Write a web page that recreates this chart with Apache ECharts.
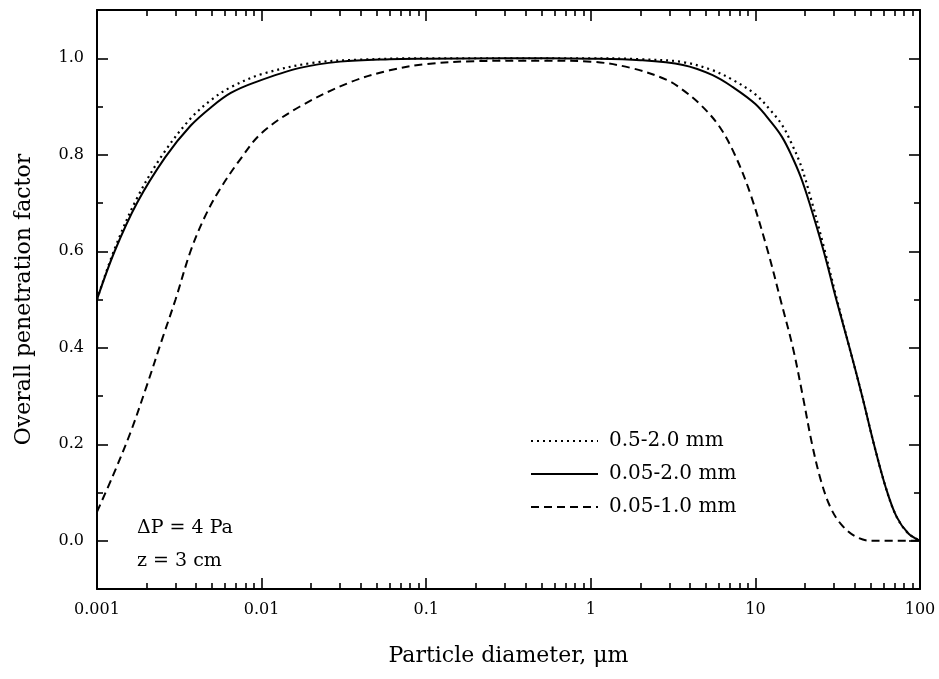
<!DOCTYPE html>
<html>
<head>
<meta charset="utf-8">
<script src="https://cdn.jsdelivr.net/npm/echarts@6/dist/echarts.min.js"></script>
<style>html,body{margin:0;padding:0;background:#fff}#c{width:939px;height:679px}</style>
</head>
<body>
<div id="c"></div>
<script>
// ---- data ----
const seriesNames = ['0.5-2.0 mm', '0.05-2.0 mm', '0.05-1.0 mm'];

const dottedX = [0.001, 0.00128, 0.00175, 0.0025, 0.0037, 0.005, 0.0065, 0.01, 0.02, 0.04, 0.1, 0.3, 1, 2, 3.63, 5.5, 7.3, 10, 12.5, 14.5, 16.5, 18.8, 21.3, 26, 31, 37.3, 44.5, 52.5, 62, 72, 85, 100];
const dottedY = [0.50, 0.605, 0.71, 0.80, 0.875, 0.915, 0.94, 0.967, 0.99, 0.997, 1.0, 1.0, 1.0, 0.998, 0.992, 0.975, 0.955, 0.925, 0.89, 0.862, 0.825, 0.78, 0.72, 0.61, 0.505, 0.40, 0.30, 0.20, 0.11, 0.05, 0.015, 0.0];

const solidX = [0.001, 0.00128, 0.00175, 0.0026, 0.0037, 0.005, 0.0065, 0.0091, 0.0171, 0.03, 0.06, 0.1, 0.3, 1, 2, 3.63, 5.5, 7.3, 10, 12.5, 14.5, 16.5, 18.8, 21.3, 26, 31, 37.3, 44.5, 52.5, 62, 72, 85, 100];
const solidY = [0.50, 0.60, 0.70, 0.795, 0.86, 0.90, 0.928, 0.95, 0.98, 0.993, 0.998, 0.999, 1.0, 0.999, 0.996, 0.986, 0.965, 0.94, 0.905, 0.867, 0.837, 0.80, 0.755, 0.70, 0.60, 0.50, 0.40, 0.30, 0.20, 0.11, 0.05, 0.015, 0.0];

const dashedX = [0.001, 0.00125, 0.0016, 0.002, 0.0025, 0.003, 0.0037, 0.0045, 0.0055, 0.0074, 0.01, 0.0171, 0.0344, 0.06, 0.1, 0.2, 0.5, 1.0, 1.8, 2.9, 3.6, 4.6, 6.0, 7.5, 9.3, 11.9, 14.2, 16.9, 19.4, 22.1, 25, 28.5, 33, 40, 50, 100];
const dashedY = [0.06, 0.135, 0.225, 0.32, 0.42, 0.50, 0.60, 0.67, 0.725, 0.79, 0.845, 0.90, 0.95, 0.975, 0.988, 0.994, 0.995, 0.993, 0.979, 0.955, 0.935, 0.905, 0.86, 0.80, 0.72, 0.60, 0.50, 0.40, 0.30, 0.20, 0.125, 0.07, 0.035, 0.01, 0.0, 0.0];

const xMajorTicks = [0.001, 0.01, 0.1, 1, 10, 100];
const xTickLabels = ['0.001', '0.01', '0.1', '1', '10', '100'];
const xDecades = [0.001, 0.01, 0.1, 1, 10];
const xMinorMultipliers = [2, 3, 4, 5, 6, 7, 8, 9];
const yMajorTicks = [0, 0.2, 0.4, 0.6, 0.8, 1.0];
const yTickLabels = ['0.0', '0.2', '0.4', '0.6', '0.8', '1.0'];
const yMinorTicks = [0.1, 0.3, 0.5, 0.7, 0.9];

const annotationLines = ['\u0394P = 4 Pa', 'z = 3 cm'];
const xTitle = 'Particle diameter, \u03bcm';
const yTitle = 'Overall penetration factor';

// ---- build ----
const xMinorTicks = [];
xDecades.forEach(d => xMinorMultipliers.forEach(m => xMinorTicks.push(+(d * m).toPrecision(3))));

const pair = (xs, ys) => xs.map((x, i) => [x, ys[i]]);
const FONT = 'DejaVu Serif';
const gridRect = { left: 97, top: 10, right: 19, bottom: 90 };

function xAxisDef(gridIndex, position, ticks, len, withLabels) {
  return {
    type: 'log', logBase: 10, gridIndex, position, min: 0.001, max: 100,
    axisLine: { show: gridIndex === 0, onZero: false, lineStyle: { color: '#000', width: 2 } },
    axisTick: { show: true, inside: true, length: len, customValues: ticks, lineStyle: { color: '#000', width: 1.6 } },
    axisLabel: withLabels ? {
      show: true, customValues: xMajorTicks, margin: 13, color: '#000', fontFamily: FONT, fontSize: 16,
      formatter: v => { let best = 0; xMajorTicks.forEach((t, i) => { if (Math.abs(Math.log10(t) - Math.log10(v)) < Math.abs(Math.log10(xMajorTicks[best]) - Math.log10(v))) best = i; }); return xTickLabels[best]; }
    } : { show: false },
    splitLine: { show: false }, minorTick: { show: false }, minorSplitLine: { show: false },
    name: withLabels ? xTitle : '', nameLocation: 'middle', nameGap: 56,
    nameTextStyle: { color: '#000', fontFamily: FONT, fontSize: 22 }
  };
}
function yAxisDef(gridIndex, position, ticks, len, withLabels) {
  return {
    type: 'value', gridIndex, position, min: -0.1, max: 1.1,
    axisLine: { show: gridIndex === 0, onZero: false, lineStyle: { color: '#000', width: 2 } },
    axisTick: { show: true, inside: true, length: len, customValues: ticks, lineStyle: { color: '#000', width: 1.6 } },
    axisLabel: withLabels ? {
      show: true, customValues: yMajorTicks, margin: 13, color: '#000', fontFamily: FONT, fontSize: 16,
      formatter: v => { let best = 0; yMajorTicks.forEach((t, i) => { if (Math.abs(t - v) < Math.abs(yMajorTicks[best] - v)) best = i; }); return yTickLabels[best]; }
    } : { show: false },
    splitLine: { show: false },
    name: withLabels ? yTitle : '', nameLocation: 'middle', nameGap: 62,
    nameTextStyle: { color: '#000', fontFamily: FONT, fontSize: 22 }
  };
}

const chart = echarts.init(document.getElementById('c'), null, { renderer: 'canvas' });
const lineCommon = { type: 'line', xAxisIndex: 0, yAxisIndex: 0, symbol: 'none', smooth: 0.35 };
chart.setOption({
  backgroundColor: '#fff',
  animation: false,
  color: ['#000', '#000', '#000'],
  grid: [Object.assign({ show: false }, gridRect), Object.assign({ show: false }, gridRect)],
  xAxis: [
    xAxisDef(0, 'bottom', xMajorTicks, 11, true),
    xAxisDef(0, 'top', xMajorTicks, 11, false),
    xAxisDef(1, 'bottom', xMinorTicks, 6, false),
    xAxisDef(1, 'top', xMinorTicks, 6, false)
  ],
  yAxis: [
    yAxisDef(0, 'left', yMajorTicks, 11, true),
    yAxisDef(0, 'right', yMajorTicks, 11, false),
    yAxisDef(1, 'left', yMinorTicks, 6, false),
    yAxisDef(1, 'right', yMinorTicks, 6, false)
  ],
  legend: {
    orient: 'vertical', left: 530, top: 431, padding: 0, itemWidth: 67, itemHeight: 14, itemGap: 13,
    itemStyle: { opacity: 0 },
    textStyle: { color: '#000', fontFamily: FONT, fontSize: 20, padding: [0, 0, 0, 6] },
    data: seriesNames
  },
  graphic: [
    { type: 'text', left: 137, top: 519, style: { text: annotationLines[0], fill: '#000', font: '19px "DejaVu Serif"' } },
    { type: 'text', left: 137, top: 552, style: { text: annotationLines[1], fill: '#000', font: '19px "DejaVu Serif"' } }
  ],
  series: [
    Object.assign({ name: seriesNames[0], data: pair(dottedX, dottedY), lineStyle: { color: '#000', width: 2.2, type: [2, 4] } }, lineCommon),
    Object.assign({ name: seriesNames[1], data: pair(solidX, solidY), lineStyle: { color: '#000', width: 2 } }, lineCommon),
    Object.assign({ name: seriesNames[2], data: pair(dashedX, dashedY), lineStyle: { color: '#000', width: 2, type: [8, 5] } }, lineCommon)
  ]
});
</script>
</body>
</html>
